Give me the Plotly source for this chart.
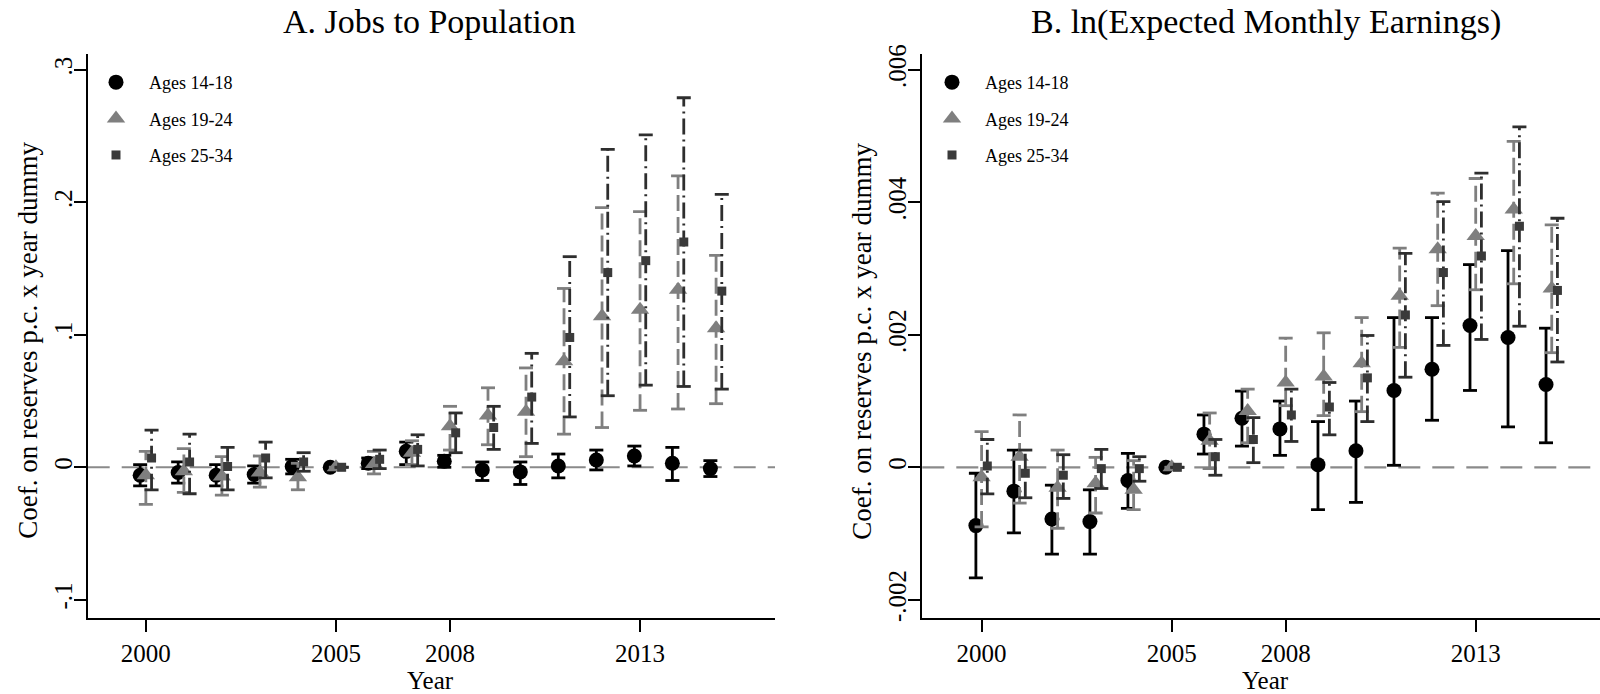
import plotly.graph_objects as go

# ---------------------------------------------------------------- data
years = list(range(2000, 2016))
xtick_vals = [2000, 2005, 2008, 2013]
xtick_text = ["2000", "2005", "2008", "2013"]

group_names = ["Ages 14-18", "Ages 19-24", "Ages 25-34"]

# Panel A: jobs to population
jp_1418 = [-0.006, -0.004, -0.006, -0.0055, 0.0005, 0.0, 0.003, 0.012, 0.0045, -0.002, -0.0035, 0.001, 0.0055, 0.0085, 0.003, -0.001]
jp_1418_lo = [-0.014, -0.012, -0.014, -0.012, -0.005, 0.0, -0.001, 0.002, 0.0, -0.010, -0.013, -0.008, -0.002, 0.001, -0.010, -0.007]
jp_1418_hi = [0.002, 0.004, 0.002, 0.001, 0.006, 0.0, 0.007, 0.019, 0.009, 0.004, 0.004, 0.010, 0.013, 0.016, 0.015, 0.005]

jp_1924 = [-0.006, -0.003, -0.007, -0.004, -0.0075, 0.0, 0.0025, 0.011, 0.031, 0.039, 0.042, 0.080, 0.114, 0.119, 0.134, 0.105]
jp_1924_lo = [-0.028, -0.019, -0.021, -0.015, -0.017, 0.0, -0.005, 0.002, 0.013, 0.017, 0.008, 0.025, 0.030, 0.043, 0.044, 0.048]
jp_1924_hi = [0.012, 0.014, 0.008, 0.0085, 0.003, 0.0, 0.012, 0.020, 0.046, 0.060, 0.075, 0.135, 0.196, 0.193, 0.220, 0.160]

jp_2534 = [0.007, 0.004, 0.0005, 0.007, 0.004, 0.0, 0.006, 0.0135, 0.026, 0.030, 0.053, 0.098, 0.147, 0.156, 0.170, 0.133]
jp_2534_lo = [-0.017, -0.020, -0.017, -0.008, -0.003, 0.0, -0.001, 0.001, 0.011, 0.0135, 0.018, 0.038, 0.054, 0.062, 0.061, 0.059]
jp_2534_hi = [0.028, 0.025, 0.015, 0.019, 0.011, 0.0, 0.013, 0.0245, 0.041, 0.046, 0.086, 0.159, 0.240, 0.251, 0.279, 0.206]

# Panel B: ln(expected monthly earnings)
ln_1418 = [-0.00088, -0.00036, -0.00078, -0.00082, -0.0002, 0.0, 0.0005, 0.00074, 0.00058, 0.00004, 0.00025, 0.00116, 0.00148, 0.00214, 0.00196, 0.00125]
ln_1418_lo = [-0.00167, -0.00099, -0.00131, -0.00131, -0.00062, 0.0, 0.0002, 0.00032, 0.00018, -0.00064, -0.00053, 0.00003, 0.00071, 0.00116, 0.00061, 0.00037]
ln_1418_hi = [-0.00009, 0.00026, -0.00027, -0.00034, 0.00021, 0.0, 0.00079, 0.00115, 0.001, 0.00069, 0.001, 0.00226, 0.00226, 0.00306, 0.00327, 0.0021]

ln_1924 = [-0.00015, 0.00016, -0.00031, -0.00024, -0.00034, 0.0, 0.0004, 0.00085, 0.00128, 0.00137, 0.00157, 0.00259, 0.00329, 0.00349, 0.00389, 0.0027]
ln_1924_lo = [-0.0009, -0.00054, -0.00092, -0.00069, -0.00064, 0.0, -0.00002, 0.00037, 0.00093, 0.00078, 0.00084, 0.00181, 0.00244, 0.00268, 0.00277, 0.00173]
ln_1924_hi = [0.00054, 0.00079, 0.00026, 0.00015, 0.0001, 0.0, 0.00082, 0.00118, 0.00195, 0.00203, 0.00226, 0.00331, 0.00414, 0.00436, 0.00492, 0.00366]

ln_2534 = [0.00002, -0.00009, -0.00012, -0.00002, -0.00002, 0.0, 0.00016, 0.00042, 0.00079, 0.00091, 0.00135, 0.00230, 0.00294, 0.00319, 0.00364, 0.00267]
ln_2534_lo = [-0.0004, -0.00046, -0.00047, -0.00032, -0.00021, 0.0, -0.00012, 0.00007, 0.00039, 0.00049, 0.00069, 0.00136, 0.00184, 0.00193, 0.00213, 0.00159]
ln_2534_hi = [0.00042, 0.00026, 0.00019, 0.00027, 0.00016, 0.0, 0.00042, 0.00075, 0.00118, 0.00128, 0.00199, 0.00323, 0.00401, 0.00444, 0.00514, 0.00376]

ytick_a_vals = [-0.1, 0.0, 0.1, 0.2, 0.3]
ytick_a_text = ["-.1", "0", ".1", ".2", ".3"]
ytick_b_vals = [-0.002, 0.0, 0.002, 0.004, 0.006]
ytick_b_text = ["-.002", "0", ".002", ".004", ".006"]

# ---------------------------------------------------------------- styles
FONT = "Liberation Serif"
W, H = 1600, 694

styles = [
    dict(shift=-0.15, symbol="circle", size=15, color="#000000",
         ci_color="#000000", dash="solid"),
    dict(shift=0.0, symbol="triangle-up", size=16, color="#7f7f7f",
         ci_color="#7f7f7f", dash="16px,6px"),
    dict(shift=0.15, symbol="square", size=9, color="#3a3a3a",
         ci_color="#2e2e2e", dash="16px,5px,2px,5px"),
]

fig = go.Figure()


def add_group(est, lo, hi, name, st, xa, ya, legend):
    xs = [yr + st["shift"] for yr in years]
    sx, sy = [], []
    for x, a, b in zip(xs, lo, hi):
        sx += [x, x, None]
        sy += [a, b, None]
    fig.add_trace(go.Scatter(
        x=sx, y=sy, mode="lines", xaxis=xa, yaxis=ya,
        line=dict(color=st["ci_color"], width=2.8, dash=st["dash"]),
        showlegend=False, hoverinfo="skip", legend=legend))
    fig.add_trace(go.Scatter(
        x=xs + xs, y=lo + hi, mode="markers", xaxis=xa, yaxis=ya,
        marker=dict(symbol="line-ew", size=10,
                    line=dict(width=2.8, color=st["ci_color"])),
        showlegend=False, hoverinfo="skip", legend=legend))
    fig.add_trace(go.Scatter(
        x=xs, y=est, mode="markers", xaxis=xa, yaxis=ya, name=name,
        legendgroup=name, legend=legend,
        marker=dict(symbol=st["symbol"], size=st["size"], color=st["color"],
                    line=dict(width=0))))


panel_a = [(jp_1418, jp_1418_lo, jp_1418_hi),
           (jp_1924, jp_1924_lo, jp_1924_hi),
           (jp_2534, jp_2534_lo, jp_2534_hi)]
panel_b = [(ln_1418, ln_1418_lo, ln_1418_hi),
           (ln_1924, ln_1924_lo, ln_1924_hi),
           (ln_2534, ln_2534_lo, ln_2534_hi)]

for (e, l, h), nm, st in zip(panel_a, group_names, styles):
    add_group(e, l, h, nm, st, "x", "y", "legend")
for (e, l, h), nm, st in zip(panel_b, group_names, styles):
    add_group(e, l, h, nm, st, "x2", "y2", "legend2")

# dashed reference line at zero
for xr, yr in (("x domain", "y"), ("x2 domain", "y2")):
    fig.add_shape(type="line", xref=xr, yref=yr, x0=0, x1=1, y0=0, y1=0,
                  line=dict(color="#8a8a8a", width=2.2, dash="22px,12px"),
                  layer="below")

y_dom = [(H - 620) / H, (H - 45) / H]

common_x = dict(showline=True, linecolor="black", linewidth=2,
                ticks="outside", ticklen=12, tickwidth=2, tickcolor="black",
                showgrid=False, zeroline=False, tickmode="array",
                tickvals=xtick_vals, ticktext=xtick_text,
                tickfont=dict(family=FONT, size=25, color="black"))
common_y = dict(showline=True, linecolor="black", linewidth=2,
                ticks="outside", ticklen=12, tickwidth=2, tickcolor="black",
                showgrid=False, zeroline=False, tickmode="array",
                tickangle=-90, domain=y_dom, ticklabelstandoff=-8,
                tickfont=dict(family=FONT, size=25, color="black"))

legend_common = dict(xanchor="left", yanchor="top", y=(H - 55) / H,
                     bgcolor="rgba(0,0,0,0)", itemwidth=56, tracegroupgap=10,
                     font=dict(family=FONT, size=18, color="black"))

fig.update_layout(
    width=W, height=H,
    margin=dict(l=0, r=0, t=0, b=0),
    paper_bgcolor="white", plot_bgcolor="white",
    font=dict(family=FONT, color="black"),
    xaxis=dict(domain=[87.7 / W, 775 / W], range=[1998.47, 2016.55],
               anchor="y", **common_x),
    yaxis=dict(range=[-0.1141, 0.3119], anchor="x",
               tickvals=ytick_a_vals, ticktext=ytick_a_text, **common_y),
    xaxis2=dict(domain=[922.3 / W, 1.0], range=[1998.44, 2016.27],
                anchor="y2", **common_x),
    yaxis2=dict(range=[-0.002281, 0.006237], anchor="x2",
                tickvals=ytick_b_vals, ticktext=ytick_b_text, **common_y),
    legend=dict(x=83 / W, **legend_common),
    legend2=dict(x=919 / W, **legend_common),
    showlegend=True,
)

# panel titles, axis titles
ann = [
    dict(text="A. Jobs to Population", x=429 / W, y=(H - 12) / H, size=34),
    dict(text="B. ln(Expected Monthly Earnings)", x=1266 / W, y=(H - 12) / H, size=34),
    dict(text="Year", x=431 / W, y=(H - 683) / H, size=25),
    dict(text="Year", x=1265 / W, y=(H - 683) / H, size=25),
]
for a in ann:
    fig.add_annotation(text=a["text"], xref="paper", yref="paper",
                       x=a["x"], y=a["y"], xanchor="center", yanchor="middle",
                       showarrow=False,
                       font=dict(family=FONT, size=a["size"], color="black"))
for xpos in (28, 862):
    fig.add_annotation(text="Coef. on reserves p.c. x year dummy",
                       xref="paper", yref="paper", x=xpos / W,
                       y=(H - 337) / H, xanchor="center", yanchor="middle",
                       textangle=-90, showarrow=False,
                       font=dict(family=FONT, size=27, color="black"))

fig.write_html("out.html")
